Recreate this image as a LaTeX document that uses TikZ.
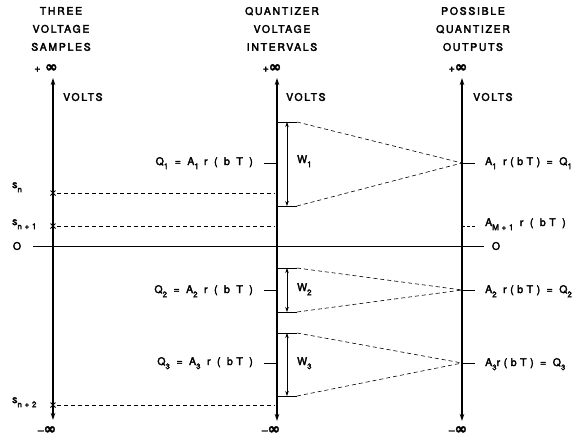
\documentclass[tikz,border=0pt]{standalone}
\usepackage{fontspec}
\setmainfont{TeX Gyre Heros}[LetterSpace=16,FakeBold=3]
\newfontfamily\symfont{DejaVu Sans}[FakeBold=2]
\usetikzlibrary{arrows.meta,calc}
\newcommand{\lsub}[1]{\raisebox{-0.75ex}{\footnotesize #1}}
\newcommand{\infsym}{{\symfont\bfseries\fontsize{15}{15}\selectfont ∞}}
\begin{document}
\begin{tikzpicture}[x=1pt,y=-1pt,
  lbl/.style={inner sep=0pt,font=\fontsize{10.5}{12}\selectfont},
  qlbl/.style={inner sep=0pt,font=\fontsize{10.5}{12}\selectfont\addfontfeatures{LetterSpace=34}},
  title/.style={lbl,align=center,font=\fontsize{10.5}{18}\selectfont},
  axis/.style={line width=1.2pt,{Stealth[length=7pt,width=4.5pt]}-{Stealth[length=7pt,width=4.5pt]}},
  tick/.style={line width=0.7pt},
  dashln/.style={line width=0.6pt,dash pattern=on 4pt off 3pt},
  warrow/.style={line width=0.6pt,{Stealth[length=5pt,width=3.5pt]}-{Stealth[length=5pt,width=3.5pt]}}]
\useasboundingbox (0,0) rectangle (582,440);
% titles
\node[title] (t1) at (61,29) {THREE\\VOLTAGE\\SAMPLES};
\node[title] (t2) at (282,29) {QUANTIZER\\VOLTAGE\\INTERVALS};
\node[title] (t3) at (473,29) {POSSIBLE\\QUANTIZER\\OUTPUTS};
% infinity labels
\node[lbl] (pl) at (46,68) {+ \infsym};
\node[lbl] (pm) at (272,68) {+\infsym};
\node[lbl] (pr) at (458,68) {+\infsym};
\node[lbl] (ml) at (47,430) {\textendash\infsym};
\node[lbl] (mm) at (271,430) {\textendash\infsym};
\node[lbl] (mr) at (458,430) {\textendash\infsym};
% volts
\node[lbl,anchor=west] (vl) at (63,97) {VOLTS};
\node[lbl,anchor=west] (vm) at (286,97) {VOLTS};
\node[lbl,anchor=west] (vr) at (473,97) {VOLTS};
% axes
\coordinate (Lt) at (53,78); \coordinate (Lb) at (53,420);
\coordinate (Mt) at (277,78); \coordinate (Mb) at (277,421);
\coordinate (Rt) at (462,78); \coordinate (Rb) at (462,421);
\draw[axis] (Lb) -- (Lt);
\draw[axis] (Mb) -- (Mt);
\draw[axis] (Rb) -- (Rt);
% zero line
\coordinate (z0) at (33,246); \coordinate (z1) at (484,246);
\draw[line width=1pt] (z0) -- (z1);
\node[lbl] (o1) at (17,246) {O};
\node[lbl] (o2) at (496,246) {O};
% samples
\foreach \y/\n in {193/a,226/b,405/c}{
  \coordinate (s\n) at (53,\y);
  \coordinate (e\n) at (275,\y);
  \draw[line width=1pt] ($(s\n)+(-2.5,-2.5)$) -- ($(s\n)+(2.5,2.5)$) ($(s\n)+(-2.5,2.5)$) -- ($(s\n)+(2.5,-2.5)$);
  \draw[dashln] ($(s\n)+(4,0)$) -- (e\n);
}
\node[qlbl,anchor=base west] (sl1) at (12,188) {s\lsub{n}};
\node[qlbl,anchor=base west] (sl2) at (12,225) {s\lsub{n+1}};
\node[qlbl,anchor=base west] (sl3) at (12,403) {s\lsub{n+2}};
% interval ticks
\foreach \y/\n in {122/1,206/2,268/3,312/4,333/5,396/6}{
  \coordinate (m\n) at (277,\y);
  \coordinate (w\n) at (297,\y);
  \coordinate (k\n) at (287,\y);
  \draw[tick] (m\n) -- (w\n);
}
\draw[warrow] (k1) -- (k2);
\draw[warrow] (k3) -- (k4);
\draw[warrow] (k5) -- (k6);
\node[lbl,anchor=base west] (W1) at (297,163) {W\lsub{1}};
\node[lbl,anchor=base west] (W2) at (297,291) {W\lsub{2}};
\node[lbl,anchor=base west] (W3) at (297,365) {W\lsub{3}};
% Q ticks on middle axis
\foreach \y/\n in {163/1,290/2,363/3}{
  \coordinate (q\n) at (264,\y);
  \coordinate (qa\n) at (277,\y);
  \draw[tick] (q\n) -- (qa\n);
  \coordinate (r\n) at (462,\y);
  \coordinate (ra\n) at (475,\y);
  \draw[tick] (r\n) -- (ra\n);
}
\coordinate (rM) at (462,226); \coordinate (raM) at (475,226);
\draw[line width=0.6pt,dash pattern=on 3pt off 2pt] (rM) -- (raM);
% converging dashed lines
\draw[dashln] (w1) -- (r1); \draw[dashln] (w2) -- (r1);
\draw[dashln] (w3) -- (r2); \draw[dashln] (w4) -- (r2);
\draw[dashln] (w5) -- (r3); \draw[dashln] (w6) -- (r3);
% Q labels
\node[qlbl,anchor=base east] (Q1) at (253,165) {Q\lsub{1} = A\lsub{1}\enspace r ( b T )};
\node[qlbl,anchor=base east] (Q2) at (253,293) {Q\lsub{2} = A\lsub{2} r ( b T )};
\node[qlbl,anchor=base east] (Q3) at (253,365) {Q\lsub{3} = A\lsub{3} r ( bT )};
\node[qlbl,anchor=base west] (A1) at (485,165) {A\lsub{1} r(bT) = Q\lsub{1}};
\node[qlbl,anchor=base west] (AM) at (485,226) {A\lsub{M+1} r ( bT )};
\node[qlbl,anchor=base west] (A2) at (485,293) {A\lsub{2} r(bT) = Q\lsub{2}};
\node[qlbl,anchor=base west] (A3) at (485,366) {A\lsub{3}r(bT) = Q\lsub{3}};
\end{tikzpicture}
\end{document}
